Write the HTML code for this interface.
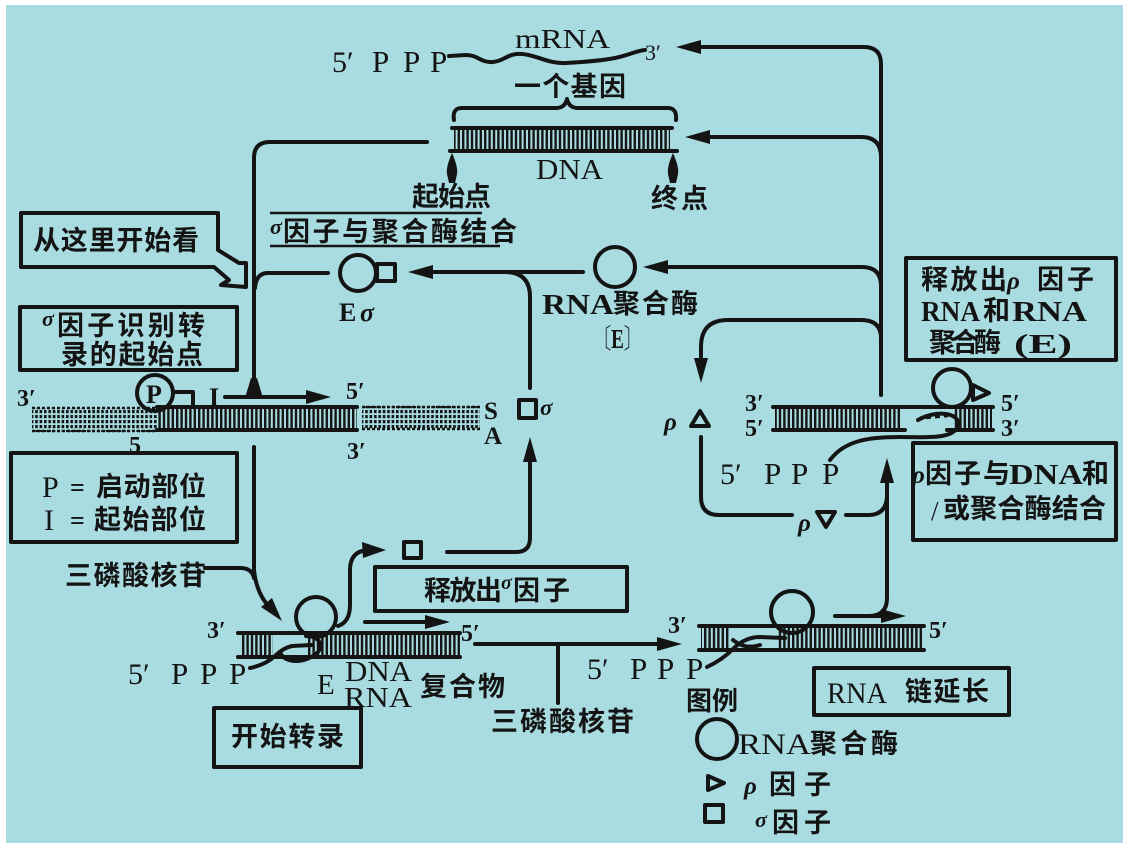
<!DOCTYPE html>
<html><head><meta charset="utf-8">
<style>
html,body{margin:0;padding:0;background:#fff}
svg{display:block}
.s{stroke:#141414;stroke-width:4;fill:none;stroke-linecap:round;stroke-linejoin:round}
.t{stroke:#141414;stroke-width:2.5;fill:none}
.f{fill:#141414}
.cj{font-family:"Noto Sans CJK SC","WenQuanYi Zen Hei",sans-serif;font-weight:700;fill:#141414}
.sr{font-family:"Liberation Serif","Noto Serif CJK SC",serif;fill:#141414}
.it{font-family:"Liberation Serif",serif;font-style:italic;font-weight:bold;fill:#141414}
</style></head><body>
<svg width="1128" height="851" viewBox="0 0 1128 851" xmlns="http://www.w3.org/2000/svg">
<defs>
<pattern id="rg" x="0" y="0" width="4.4" height="851" patternUnits="userSpaceOnUse"><rect x="0" y="0" width="2.4" height="851" fill="#141414"/></pattern>
<pattern id="dt" x="0" y="0" width="4.4" height="5" patternUnits="userSpaceOnUse"><rect x="0" y="0" width="2.6" height="3.2" fill="#141414"/></pattern>
</defs>
<rect width="1128" height="851" fill="#fff"/>
<rect x="6" y="5" width="1117" height="838" fill="#a9dce1"/>

<!-- TOP: mRNA -->
<text class="sr" x="332" y="72" font-size="30">5′</text>
<text class="sr" x="372" y="72" font-size="31">P</text>
<text class="sr" x="403" y="72" font-size="31">P</text>
<text class="sr" x="430" y="72" font-size="31">P</text>
<path class="s" stroke-width="3.2" d="M449,56 L466,55 C478,55 481,63 493,62 S507,53 522,54 S548,64 566,63 S600,61 615,58 S635,51 645,50"/>
<text class="sr" x="515" y="48" font-size="27" textLength="95" lengthAdjust="spacingAndGlyphs">mRNA</text>
<text class="sr" x="645" y="60" font-size="22">3′</text>
<text class="cj" x="514" y="96" font-size="27" textLength="112">一个基因</text>
<path class="s" stroke-width="3.2" d="M454,120 Q452,108 462,108 L556,108 Q565,108 567,99 Q569,108 578,108 L668,108 Q677,108 676,120"/>
<rect x="454" y="128" width="216" height="23" fill="url(#rg)"/>
<path class="s" stroke-width="4.5" d="M452,128 L672,128 M450,151 L677,151"/>
<text class="sr" x="536" y="179" font-size="28" textLength="67" lengthAdjust="spacingAndGlyphs">DNA</text>
<path class="f" d="M452,153 C455,160 458,168 457,174 L455,183 L449,183 L447,174 C446,168 449,160 452,153 Z"/>
<path class="f" d="M673,153 C676,160 679,168 678,174 L676,183 L670,183 L668,174 C667,168 670,160 673,153 Z"/>
<text class="cj" x="412" y="206" font-size="27" textLength="79">起始点</text>
<text class="cj" x="651" y="208" font-size="27" textLength="57">终点</text>
<path class="t" d="M270,213 L482,213 M270,246 L500,246"/>
<text class="it" x="270" y="234" font-size="22">σ</text>
<text class="cj" x="283" y="241" font-size="27" textLength="234">因子与聚合酶结合</text>

<!-- right network -->
<path class="s" d="M695,47 L864,47 Q881,47 881,64 L881,395"/>
<polygon class="f" points="676,47 701,40 701,54"/>
<path class="s" d="M705,137 L861,137 Q881,137 881,157"/>
<polygon class="f" points="685,137 710,130 710,144"/>
<path class="s" d="M662,267 L862,267 Q881,267 881,286"/>
<polygon class="f" points="643,267 668,260 668,274"/>
<path class="s" d="M881,338 Q881,320 861,320 L728,320 Q701,320 701,347 L701,362"/>
<polygon class="f" points="701,383 694,358 708,358"/>

<!-- RNA polymerase E -->
<circle class="s" cx="615" cy="267" r="20"/>
<text class="sr" x="542" y="314" font-size="29" font-weight="bold" textLength="72" lengthAdjust="spacingAndGlyphs">RNA</text>
<text class="cj" x="613" y="313" font-size="27" textLength="85">聚合酶</text>
<text class="sr" x="592" y="348" font-size="27" font-weight="bold" textLength="51" lengthAdjust="spacingAndGlyphs">〔E〕</text>
<path class="s" d="M428,272 L583,272"/>
<polygon class="f" points="408,272 433,265 433,279"/>
<path class="s" d="M505,272 Q530,272 530,297 L530,388"/>

<!-- E sigma -->
<circle class="s" cx="358" cy="273" r="18"/>
<rect class="s" x="377" y="264" width="18" height="17"/>
<text class="sr" x="339" y="321" font-size="26" font-weight="bold">E</text>
<text class="it" x="360" y="321" font-size="26">σ</text>
<path class="s" d="M328,273 L268,273 Q256,273 255,288"/>

<!-- left main vertical -->
<path class="s" d="M427,142 L270,142 Q254,142 254,158 L254,392"/>
<polygon class="f" points="251,378 257,378 263,398 245,398"/>

<!-- start here callout -->
<polygon class="s" points="21,213 218,213 218,250 239,263 246,263 246,287 221,285 229,280 214,267 21,267"/>
<text class="cj" x="33" y="250" font-size="27" textLength="166">从这里开始看</text>

<!-- sigma recognizes box -->
<rect class="s" x="20" y="307" width="217" height="63"/>
<text class="it" x="42" y="326" font-size="22">σ</text>
<text class="cj" x="57" y="335" font-size="27" textLength="148">因子识别转</text>
<text class="cj" x="61" y="364" font-size="27" textLength="142">录的起始点</text>

<!-- promoter DNA -->
<path class="s" d="M225,397 L312,397"/>
<polygon class="f" points="331,397 306,390 306,404"/>
<text class="sr" x="209" y="406" font-size="26" font-weight="bold">I</text>
<circle class="s" cx="155" cy="393" r="18"/>
<text class="sr" x="146" y="403" font-size="26" font-weight="bold">P</text>
<path class="s" d="M173,392 L193,392 L193,407"/>
<text class="sr" x="17" y="406" font-size="24" font-weight="bold">3′</text>
<rect x="32" y="408" width="125" height="24" fill="url(#dt)"/>
<path class="t" stroke-dasharray="3,2" d="M32,408 L157,408 M32,431 L157,431"/>
<rect x="158" y="407" width="199" height="23" fill="url(#rg)"/>
<path class="s" stroke-width="4" d="M157,407 L357,407"/>
<path class="s" stroke-width="5.5" d="M157,430 L357,430"/>
<rect x="362" y="406" width="118" height="24" fill="url(#dt)"/>
<path class="t" stroke-dasharray="3,2" d="M362,407 L480,407 M362,429 L480,429"/>
<text class="sr" x="346" y="399" font-size="24" font-weight="bold">5′</text>
<text class="sr" x="347" y="459" font-size="24" font-weight="bold">3′</text>
<text class="sr" x="129" y="453" font-size="24" font-weight="bold">5</text>
<text class="sr" x="484" y="419" font-size="25" font-weight="bold">S</text>
<text class="sr" x="484" y="444" font-size="25" font-weight="bold">A</text>
<rect class="s" x="519" y="400" width="17" height="18"/>
<text class="it" x="540" y="415" font-size="23">σ</text>
<polygon class="f" points="530,437 523,462 537,462"/>
<path class="s" d="M530,455 L530,538 Q530,552 516,552 L447,552"/>
<rect class="s" x="404" y="542" width="17" height="16"/>

<!-- P = box -->
<rect class="s" x="11" y="453" width="226" height="89"/>
<text class="sr" x="42" y="497" font-size="30">P</text>
<text class="sr" x="70" y="496" font-size="26" font-weight="bold">=</text>
<text class="cj" x="96" y="496" font-size="27" textLength="110">启动部位</text>
<text class="sr" x="44" y="530" font-size="30">I</text>
<text class="sr" x="70" y="529" font-size="26" font-weight="bold">=</text>
<text class="cj" x="94" y="529" font-size="27" textLength="112">起始部位</text>

<!-- lower left complex -->
<path class="s" d="M254,447 L254,570 Q256,590 266,603"/>
<polygon class="f" points="282,621 272,598 261,607"/>
<text class="cj" x="65" y="585" font-size="27" textLength="141">三磷酸核苷</text>
<path class="s" d="M205,568 L240,568 Q252,568 254,578"/>
<rect x="240" y="633" width="33" height="24" fill="url(#rg)"/>
<rect x="306" y="633" width="154" height="24" fill="url(#rg)"/>
<path class="s" stroke-width="4.5" d="M238,633 L460,633 M238,657 L460,657"/>
<circle class="s" cx="316" cy="617" r="20"/>
<path class="s" d="M250,668 Q265,665 275,656 Q283,648 292,646 L312,645"/>
<path class="s" d="M280,652 C284,664 306,664 318,652 C324,644 318,636 306,636"/>
<path class="s" d="M338,626 Q350,622 350,605 L350,570 Q350,551 368,550"/>
<polygon class="f" points="386,550 362,542 363,558"/>
<path class="s" d="M365,622 L430,622"/>
<polygon class="f" points="450,622 425,615 425,629"/>
<text class="sr" x="207" y="638" font-size="24" font-weight="bold">3′</text>
<text class="sr" x="461" y="641" font-size="24" font-weight="bold">5′</text>
<text class="sr" x="128" y="684" font-size="30">5′</text>
<text class="sr" x="171" y="684" font-size="31">P</text>
<text class="sr" x="200" y="684" font-size="31">P</text>
<text class="sr" x="229" y="684" font-size="31">P</text>
<text class="sr" x="317" y="694" font-size="29">E</text>
<text class="sr" x="345" y="681" font-size="29" textLength="67" lengthAdjust="spacingAndGlyphs">DNA</text>
<text class="sr" x="344" y="707" font-size="29" textLength="68" lengthAdjust="spacingAndGlyphs">RNA</text>
<text class="cj" x="420" y="696" font-size="27" textLength="85">复合物</text>
<rect class="s" x="214" y="708" width="147" height="59"/>
<text class="cj" x="231" y="746" font-size="27" textLength="113">开始转录</text>

<!-- release sigma box -->
<rect class="s" x="375" y="567" width="252" height="44"/>
<text class="cj" x="424" y="600" font-size="27" textLength="78">释放出</text>
<text class="it" x="501" y="589" font-size="20">σ</text>
<text class="cj" x="513" y="600" font-size="27" textLength="57">因子</text>

<!-- middle bottom connector -->
<path class="s" d="M475,644 L662,644"/>
<polygon class="f" points="682,644 657,637 657,651"/>
<path class="s" d="M558,644 L558,703"/>
<text class="cj" x="491" y="731" font-size="27" textLength="143">三磷酸核苷</text>

<!-- lower right complex -->
<text class="sr" x="668" y="633" font-size="24" font-weight="bold">3′</text>
<rect x="701" y="627" width="29" height="23" fill="url(#rg)"/>
<rect x="778" y="627" width="146" height="23" fill="url(#rg)"/>
<path class="s" stroke-width="4.5" d="M699,626 L924,626 M699,650 L924,650"/>
<circle class="s" cx="792" cy="612" r="21"/>
<path class="s" d="M707,667 Q722,660 733,649 Q745,637 760,637 L785,638"/>
<path class="s" d="M733,640 Q745,650 760,645"/>
<path class="s" d="M835,616 L885,616"/>
<polygon class="f" points="906,616 881,609 881,623"/>
<path class="s" d="M887,480 L887,598 Q887,616 869,616"/>
<polygon class="f" points="887,458 880,483 894,483"/>
<text class="sr" x="929" y="638" font-size="24" font-weight="bold">5′</text>
<text class="sr" x="587" y="679" font-size="30">5′</text>
<text class="sr" x="630" y="679" font-size="31">P</text>
<text class="sr" x="657" y="679" font-size="31">P</text>
<text class="sr" x="686" y="679" font-size="31">P</text>
<rect class="s" x="814" y="668" width="195" height="47"/>
<text class="sr" x="827" y="703" font-size="30" textLength="60" lengthAdjust="spacingAndGlyphs">RNA</text>
<text class="cj" x="905" y="701" font-size="27" textLength="84">链延长</text>

<!-- legend -->
<text class="cj" x="686" y="710" font-size="26" textLength="52">图例</text>
<circle class="s" cx="717" cy="739" r="20"/>
<text class="sr" x="738" y="754" font-size="30" textLength="73" lengthAdjust="spacingAndGlyphs">RNA</text>
<text class="cj" x="810" y="753" font-size="27" textLength="88">聚合酶</text>
<polygon class="s" stroke-width="5" points="708,776 724,783 708,790"/>
<text class="it" x="744" y="794" font-size="25">ρ</text>
<text class="cj" x="769" y="794" font-size="27" textLength="62">因子</text>
<rect class="s" stroke-width="4.5" x="705" y="805" width="18" height="17"/>
<text class="it" x="755" y="827" font-size="22">σ</text>
<text class="cj" x="772" y="832" font-size="27" textLength="59">因子</text>

<!-- right middle: rho -->
<text class="it" x="664" y="430" font-size="25">ρ</text>
<polygon class="s" points="700,411 691,426 709,426"/>
<path class="s" d="M701,437 L701,497 Q701,515 719,515 L792,515"/>
<text class="it" x="798" y="531" font-size="25">ρ</text>
<polygon class="s" points="817,512 835,512 826,527"/>
<path class="s" d="M846,515 L868,515 Q886,515 887,497"/>
<text class="sr" x="745" y="411" font-size="24" font-weight="bold">3′</text>
<text class="sr" x="745" y="436" font-size="24" font-weight="bold">5′</text>
<rect x="775" y="408" width="127" height="22" fill="url(#rg)"/>
<rect x="954" y="408" width="38" height="22" fill="url(#rg)"/>
<path class="s" stroke-width="4.5" d="M773,407 L993,407 M773,430 L905,430 M947,430 L993,430"/>
<circle class="s" cx="952" cy="388" r="19"/>
<polygon class="s" stroke-width="3" points="973,385 989,393 973,400"/>
<path class="s" d="M830,460 C845,440 870,437 900,437 C925,437 955,440 958,425 C960,412 935,410 918,420"/>
<path class="t" stroke-dasharray="5,4" d="M926,418 L948,416"/>
<text class="sr" x="1001" y="411" font-size="24" font-weight="bold">5′</text>
<text class="sr" x="1001" y="436" font-size="24" font-weight="bold">3′</text>
<text class="sr" x="720" y="484" font-size="30">5′</text>
<text class="sr" x="764" y="484" font-size="31">P</text>
<text class="sr" x="791" y="484" font-size="31">P</text>
<text class="sr" x="822" y="484" font-size="31">P</text>

<!-- right boxes -->
<rect class="s" x="906" y="258" width="210" height="102"/>
<text class="cj" x="921" y="289" font-size="27" textLength="86">释放出</text>
<text class="it" x="1007" y="289" font-size="25">ρ</text>
<text class="cj" x="1037" y="289" font-size="27" textLength="57">因子</text>
<text class="sr" x="921" y="321" font-size="29" font-weight="bold" textLength="59" lengthAdjust="spacingAndGlyphs">RNA</text>
<text class="cj" x="983" y="320" font-size="27" textLength="29">和</text>
<text class="sr" x="1012" y="321" font-size="29" font-weight="bold" textLength="75" lengthAdjust="spacingAndGlyphs">RNA</text>
<text class="cj" x="929" y="352" font-size="27" textLength="72">聚合酶</text>
<text class="sr" x="1014" y="353" font-size="27" font-weight="bold" textLength="58" lengthAdjust="spacingAndGlyphs">(E)</text>

<rect class="s" x="913" y="443" width="203" height="97"/>
<text class="it" x="912" y="483" font-size="25">ρ</text>
<text class="cj" x="925" y="483" font-size="27" textLength="85">因子与</text>
<text class="sr" x="1009" y="484" font-size="29" font-weight="bold" textLength="74" lengthAdjust="spacingAndGlyphs">DNA</text>
<text class="cj" x="1082" y="483" font-size="27" textLength="27">和</text>
<text class="sr" x="931" y="520" font-size="27">/</text>
<text class="cj" x="943" y="518" font-size="27" textLength="163">或聚合酶结合</text>
</svg>
</body></html>
